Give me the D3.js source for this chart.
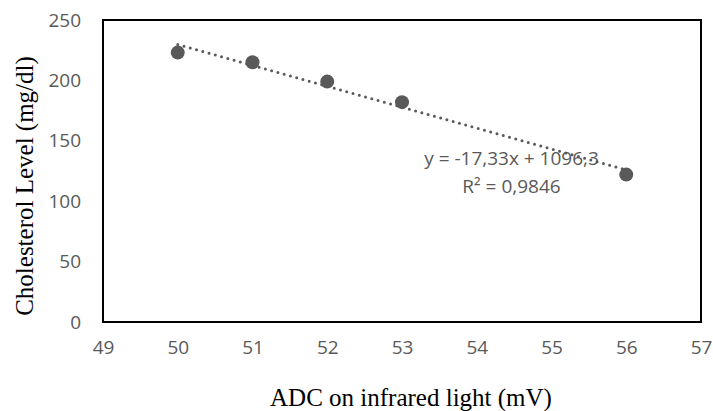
<!DOCTYPE html>
<html><head><meta charset="utf-8">
<script src="https://cdn.jsdelivr.net/npm/d3@7"></script>
<style>body{margin:0;background:#fff}</style>
</head><body>
<svg id="c" width="713" height="411"></svg>
<script>
const xValues = [50, 51, 52, 53, 56];
const yValues = [223, 215, 199, 182, 122];
const xTicks = [49, 50, 51, 52, 53, 54, 55, 56, 57];
const yTicks = [0, 50, 100, 150, 200, 250];
const slope = -17.33, intercept = 1096.3;
const eqLabels = ["y = -17,33x + 1096,3", "R² = 0,9846"];

const svg = d3.select("#c");
const L = 103, R = 701, T = 20, B = 322;
const x = d3.scaleLinear().domain([49, 57]).range([L, R]);
const y = d3.scaleLinear().domain([0, 250]).range([B, T]);
const grey = "#595959";
const tickFont = "Open Sans, sans-serif";

svg.append("rect").attr("x", L).attr("y", T).attr("width", R - L).attr("height", B - T)
  .attr("fill", "none").attr("stroke", "#000").attr("stroke-width", 2);

const xAxis = svg.append("g").attr("transform", `translate(0,${B})`)
  .call(d3.axisBottom(x).tickValues(xTicks).tickSize(0).tickPadding(19).tickFormat(d3.format("d")));
xAxis.select(".domain").remove();
xAxis.selectAll("text").attr("fill", grey).style("font-family", tickFont).style("font-size", "19px");

const yAxis = svg.append("g").attr("transform", `translate(${L},0)`)
  .call(d3.axisLeft(y).tickValues(yTicks).tickSize(0).tickPadding(22).tickFormat(d3.format("d")));
yAxis.select(".domain").remove();
yAxis.selectAll("text").attr("fill", grey).style("font-family", tickFont).style("font-size", "19px");

// trendline
const x0 = d3.min(xValues), x1 = d3.max(xValues);
svg.append("line")
  .attr("x1", x(x0)).attr("y1", y(slope * x0 + intercept))
  .attr("x2", x(x1)).attr("y2", y(slope * x1 + intercept))
  .attr("stroke", grey).attr("stroke-width", 3).attr("stroke-linecap", "round")
  .attr("stroke-dasharray", "0,6.5");

svg.append("g").selectAll("circle").data(xValues).join("circle")
  .attr("cx", d => x(d)).attr("cy", (d, i) => y(yValues[i])).attr("r", 7).attr("fill", grey);

svg.append("g").selectAll("text").data(eqLabels).join("text")
  .attr("x", 511.5).attr("y", (d, i) => 165 + i * 28)
  .attr("text-anchor", "middle").attr("fill", grey)
  .style("font-family", tickFont).style("font-size", "19px")
  .text(d => d);

svg.append("text").attr("x", 411).attr("y", 406).attr("text-anchor", "middle")
  .style("font-family", "Liberation Serif, serif").style("font-size", "25px").attr("fill", "#000")
  .text("ADC on infrared light (mV)");

svg.append("text").attr("transform", "translate(33,186) rotate(-90)").attr("text-anchor", "middle")
  .style("font-family", "Liberation Serif, serif").style("font-size", "25px").attr("fill", "#000")
  .text("Cholesterol Level (mg/dl)");
</script>
</body></html>
